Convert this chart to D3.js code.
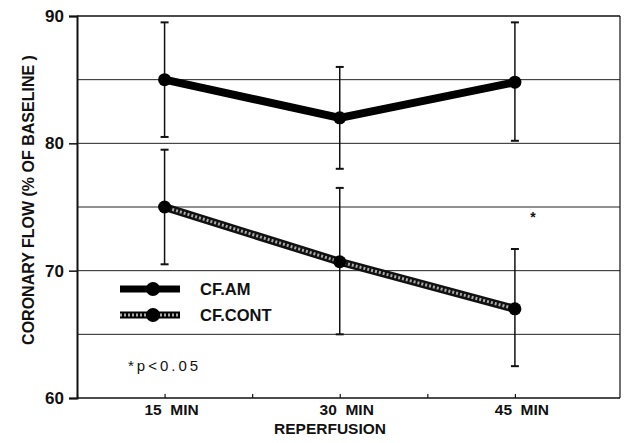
<!DOCTYPE html>
<html><head><meta charset="utf-8">
<script src="https://cdn.jsdelivr.net/npm/d3@7/dist/d3.min.js"></script>
<style>body{margin:0;background:#fff}text{font-family:"Liberation Sans",Arial,sans-serif;font-weight:bold;fill:#111}</style>
</head><body><svg id="c" width="628" height="443"></svg>
<script>
const times = [15, 30, 45];
const xTickLabels = ["15  MIN", "30  MIN", "45  MIN"];
const yTicks = [60, 70, 80, 90];
const gridValues = [65, 70, 75, 80, 85];
const amMean = [85, 82, 84.8];
const amUpper = [89.5, 86, 89.5];
const amLower = [80.5, 78, 80.2];
const contMean = [75, 70.7, 67];
const contUpper = [79.5, 76.5, 71.7];
const contLower = [70.5, 65, 62.5];
const seriesNames = ["CF.AM", "CF.CONT"];

const svg = d3.select("#c");
const L = 77, R = 620, T = 16, B = 398;
const x = d3.scaleLinear().domain([7.5, 54]).range([L, R]);
const y = d3.scaleLinear().domain([60, 90]).range([B, T]);

svg.append("g").selectAll("line").data(gridValues).join("line")
  .attr("x1", L).attr("x2", R).attr("y1", d => y(d)).attr("y2", d => y(d))
  .attr("stroke", "#222").attr("stroke-width", 1);
svg.append("line").attr("x1", L).attr("x2", R).attr("y1", y(90)).attr("y2", y(90)).attr("stroke", "#111").attr("stroke-width", 1.5);
svg.append("line").attr("x1", R).attr("x2", R).attr("y1", y(90)).attr("y2", B).attr("stroke", "#111").attr("stroke-width", 1.2);

const ya = svg.append("g").attr("transform", `translate(${L},0)`)
  .call(d3.axisLeft(y).tickValues(yTicks).tickSize(8).tickFormat(d3.format("d")));
ya.select(".domain").attr("stroke", "#111").attr("stroke-width", 2);
ya.selectAll(".tick line").attr("stroke", "#111").attr("stroke-width", 1.5);
ya.selectAll("text").attr("font-size", 17).attr("dx", -2).style("font-family", "Liberation Sans, Arial").style("font-weight", "bold");

const xa = svg.append("g").attr("transform", `translate(0,${B})`)
  .call(d3.axisBottom(x).tickValues([7.5, 15, 22.5, 30, 37.5, 45]).tickSize(-4).tickFormat(""));
xa.select(".domain").attr("stroke", "#111").attr("stroke-width", 1.5).attr("d", `M${L},0H${R}`);
xa.selectAll(".tick line").attr("stroke", "#111").attr("stroke-width", 1.2).attr("y2", -4);
svg.append("g").selectAll("text").data(times).join("text")
  .attr("x", d => x(d) + 7).attr("y", 415).attr("text-anchor", "middle")
  .attr("font-size", 15.5).attr("xml:space", "preserve")
  .text((d, i) => xTickLabels[i]);
svg.append("text").attr("x", 330).attr("y", 434).attr("text-anchor", "middle").attr("font-size", 15.5).text("REPERFUSION");
svg.append("text").attr("transform", "translate(34,200) rotate(-90)").attr("text-anchor", "middle")
  .attr("font-size", 16).text("CORONARY FLOW (% OF BASELINE )");

function errBars(up, lo) {
  const g = svg.append("g");
  times.forEach((t, i) => {
    g.append("line").attr("x1", x(t)).attr("x2", x(t)).attr("y1", y(up[i])).attr("y2", y(lo[i])).attr("stroke", "#111").attr("stroke-width", 1.5);
    [up[i], lo[i]].forEach(v => g.append("line").attr("x1", x(t) - 4).attr("x2", x(t) + 4).attr("y1", y(v)).attr("y2", y(v)).attr("stroke", "#111").attr("stroke-width", 2));
  });
}
errBars(amUpper, amLower);
errBars(contUpper, contLower);

const line = d3.line().x((d, i) => x(times[i])).y(d => y(d));
svg.append("path").datum(amMean).attr("d", line).attr("fill", "none").attr("stroke", "#000").attr("stroke-width", 8);
svg.append("path").datum(contMean).attr("d", line).attr("fill", "none").attr("stroke", "#111").attr("stroke-width", 8);
svg.append("path").datum(contMean).attr("d", line).attr("fill", "none").attr("stroke", "#aaa").attr("stroke-width", 3).attr("stroke-dasharray", "2,2");

svg.append("g").selectAll("circle").data(amMean.concat(contMean)).join("circle")
  .attr("cx", (d, i) => x(times[i % 3])).attr("cy", d => y(d)).attr("r", 6.5).attr("fill", "#000");

svg.append("text").attr("x", x(45) + 18).attr("y", 222).attr("text-anchor", "middle").attr("font-size", 14).text("*");

const legY = [289, 315];
seriesNames.forEach((n, i) => {
  svg.append("line").attr("x1", 120).attr("x2", 180).attr("y1", legY[i]).attr("y2", legY[i]).attr("stroke", "#000").attr("stroke-width", 7);
  if (i === 1) svg.append("line").attr("x1", 120).attr("x2", 180).attr("y1", legY[i]).attr("y2", legY[i]).attr("stroke", "#aaa").attr("stroke-width", 3).attr("stroke-dasharray", "2,2");
  svg.append("circle").attr("cx", 153).attr("cy", legY[i]).attr("r", 7).attr("fill", "#000");
  svg.append("text").attr("x", 200).attr("y", legY[i] + 6).attr("font-size", 16.5).text(n);
});
svg.append("text").attr("x", 128).attr("y", 371).attr("font-size", 15).attr("letter-spacing", 3).style("font-weight", "normal").text("*p<0.05");
</script></body></html>
